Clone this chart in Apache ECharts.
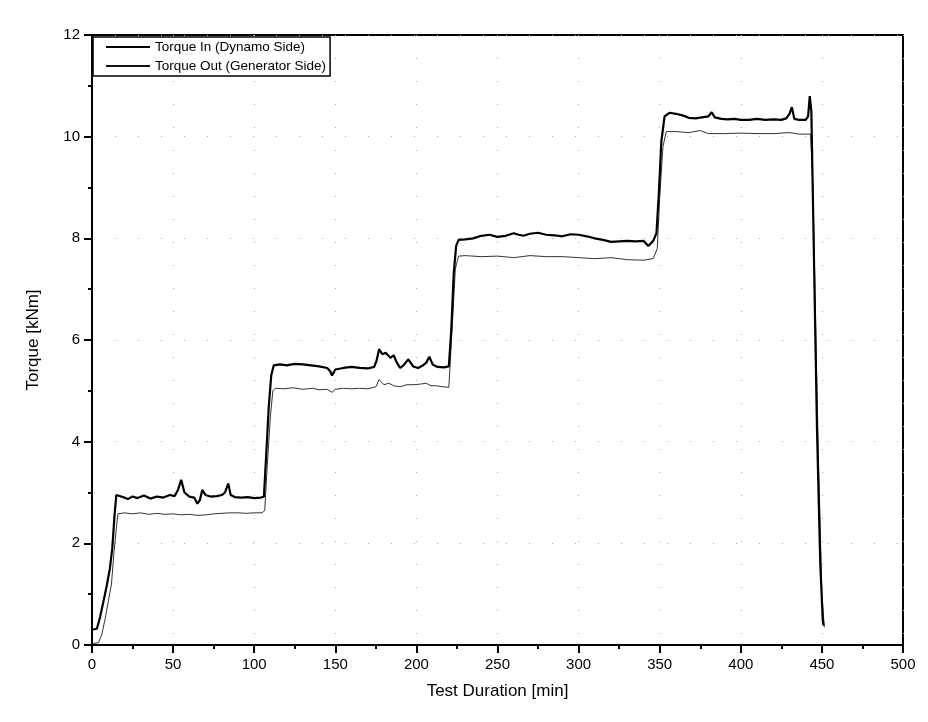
<!DOCTYPE html>
<html>
<head>
<meta charset="utf-8">
<script src="https://cdn.jsdelivr.net/npm/echarts@6/dist/echarts.min.js"></script>
<style>html,body{margin:0;padding:0;background:#fff}#c{width:928px;height:722px}</style>
</head>
<body>
<div id="c"></div>
<script>
const xTicks = [0,50,100,150,200,250,300,350,400,450,500];
const yTicks = [0,2,4,6,8,10,12];
const seriesNames = ['Torque In (Dynamo Side)', 'Torque Out (Generator Side)'];

const inTime = [0,3,5,7,9,11,12.5,14,15,17,20,22,25,28,32,36,40,44,48,51,53,55,57,60,63,65,66.5,68,70,73,77,80,82,84,85.5,88,92,96,100,104,106,107.5,109,110.5,112,116,120,125,130,135,140,145,147,148,150,155,160,165,170,174,175.5,177,179,181,184,186,188,190,192,195,198,201,204,206,208,210,213,217,220,221.5,223,224.5,226,230,235,240,245,250,255,260,263,266,270,275,280,285,290,295,300,305,310,315,320,325,330,335,340,343,346,348,349.5,351,353,356,360,364,368,372,376,380,382,384,388,392,396,400,405,410,415,420,425,428,430,431.5,433,436,440,441.5,442.5,443.5,445,447,449,450.5,451];
const inTorque = [0.30,0.32,0.55,0.85,1.15,1.5,1.9,2.6,2.95,2.93,2.90,2.87,2.92,2.89,2.94,2.88,2.92,2.90,2.95,2.93,3.05,3.25,3.0,2.92,2.90,2.78,2.85,3.05,2.95,2.92,2.93,2.95,3.0,3.18,2.95,2.91,2.90,2.91,2.89,2.90,2.92,3.8,4.7,5.3,5.5,5.52,5.5,5.53,5.52,5.5,5.48,5.45,5.38,5.30,5.42,5.45,5.47,5.45,5.44,5.47,5.6,5.82,5.72,5.75,5.65,5.7,5.55,5.45,5.5,5.62,5.48,5.45,5.5,5.55,5.67,5.52,5.47,5.46,5.48,6.2,7.3,7.85,7.97,7.98,8.0,8.05,8.07,8.03,8.05,8.1,8.07,8.05,8.09,8.11,8.07,8.06,8.04,8.08,8.07,8.04,8.0,7.97,7.93,7.94,7.95,7.94,7.95,7.85,7.95,8.1,8.9,9.9,10.4,10.47,10.45,10.42,10.37,10.36,10.38,10.40,10.48,10.38,10.35,10.34,10.35,10.33,10.33,10.35,10.33,10.34,10.33,10.36,10.45,10.58,10.35,10.33,10.33,10.4,10.8,10.5,7.8,4.2,1.6,0.5,0.38];

const outTime = [0,4,6,8,10,12,13.5,15,16,20,25,30,35,40,45,50,55,60,65,70,75,80,85,90,95,100,105,106.5,108,110,111.5,113,118,124,130,136,140,145,148,150,155,160,165,170,175,177,180,183,186,190,194,198,202,206,209,212,216,220,221,222.5,224,226,230,240,250,260,270,280,290,300,310,320,330,340,346,348.5,350,352,354,360,368,375,380,390,400,410,420,430,436,443,444.5,446,448,450,451.5];
const outTorque = [0.02,0.05,0.2,0.5,0.85,1.2,1.8,2.3,2.58,2.6,2.58,2.6,2.57,2.59,2.57,2.58,2.56,2.57,2.55,2.56,2.58,2.59,2.6,2.6,2.59,2.6,2.6,2.65,3.5,4.5,5.0,5.05,5.04,5.06,5.03,5.05,5.02,5.03,4.97,5.03,5.05,5.04,5.05,5.04,5.08,5.22,5.12,5.15,5.1,5.08,5.12,5.12,5.13,5.15,5.1,5.1,5.08,5.07,5.1,6.5,7.4,7.65,7.66,7.64,7.65,7.62,7.66,7.64,7.64,7.62,7.6,7.62,7.58,7.57,7.6,7.8,8.8,9.8,10.1,10.1,10.08,10.12,10.06,10.06,10.07,10.06,10.06,10.08,10.05,10.05,9.0,6.5,3.5,1.0,0.35];

const inData = inTime.map((t, i) => [t, inTorque[i]]);
const outData = outTime.map((t, i) => [t, outTorque[i]]);

const FONT = '"Liberation Sans", Arial, sans-serif';
const chart = echarts.init(document.getElementById('c'), null, {renderer: 'canvas'});
chart.setOption({
  animation: false,
  backgroundColor: '#fff',
  grid: {left: 92, right: 25, top: 35, bottom: 77, show: true, borderColor: '#000', borderWidth: 2, backgroundColor: 'transparent'},
  legend: {
    left: 93, top: 37, orient: 'vertical',
    data: seriesNames,
    icon: 'rect',
    itemWidth: 44, itemHeight: 2, itemGap: 5,
    padding: [3, 4, 3, 13],
    borderColor: '#000', borderWidth: 1.5, backgroundColor: '#fff',
    textStyle: {fontFamily: FONT, fontSize: 13.5, color: '#000'}
  },
  xAxis: {
    type: 'value', min: 0, max: 500, interval: 50,
    name: 'Test Duration [min]', nameLocation: 'middle', nameGap: 38,
    nameTextStyle: {fontFamily: FONT, fontSize: 17, color: '#000'},
    axisLine: {show: true, lineStyle: {color: '#000', width: 2}},
    axisTick: {show: true, inside: false, length: 8, lineStyle: {color: '#000', width: 2}},
    minorTick: {show: true, splitNumber: 2, length: 4, lineStyle: {color: '#000', width: 2}},
    axisLabel: {fontFamily: FONT, fontSize: 15, color: '#000', margin: 12,
      formatter: v => xTicks.includes(v) ? String(v) : ''},
    splitLine: {show: true, lineStyle: {color: '#aaa', width: 1, type: [1, 22]}}
  },
  yAxis: {
    type: 'value', min: 0, max: 12, interval: 2,
    name: 'Torque [kNm]', nameLocation: 'middle', nameGap: 50,
    nameTextStyle: {fontFamily: FONT, fontSize: 17, color: '#000'},
    axisLine: {show: true, lineStyle: {color: '#000', width: 2}},
    axisTick: {show: true, inside: false, length: 8, lineStyle: {color: '#000', width: 2}},
    minorTick: {show: true, splitNumber: 2, length: 4, lineStyle: {color: '#000', width: 2}},
    axisLabel: {fontFamily: FONT, fontSize: 15, color: '#000', margin: 12,
      formatter: v => yTicks.includes(v) ? String(v) : ''},
    splitLine: {show: true, lineStyle: {color: '#aaa', width: 1, type: [1, 22]}}
  },
  series: [
    {name: seriesNames[1], type: 'line', data: outData, showSymbol: false, symbol: 'none',
      lineStyle: {color: '#333', width: 1}, itemStyle: {color: '#111'}, z: 2},
    {name: seriesNames[0], type: 'line', data: inData, showSymbol: false, symbol: 'none',
      lineStyle: {color: '#000', width: 2.2}, itemStyle: {color: '#000'}, z: 3}
  ]
});
</script>
</body>
</html>
